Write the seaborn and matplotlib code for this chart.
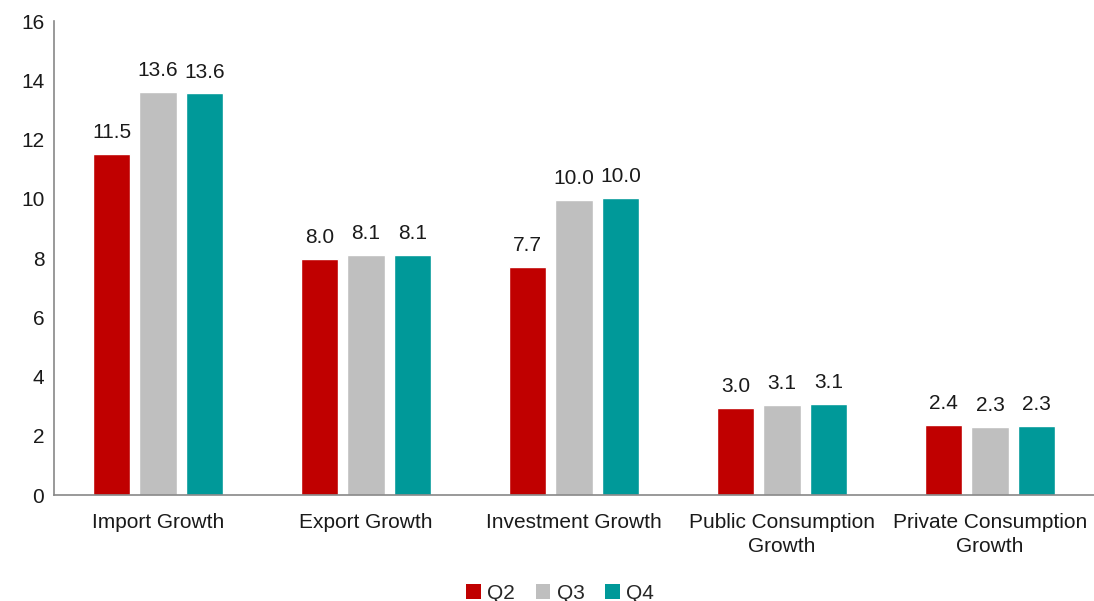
import matplotlib
matplotlib.use("Agg")
import matplotlib.pyplot as plt
import seaborn as sns
import pandas as pd
from matplotlib.patches import Patch

categories = ["Import Growth", "Export Growth", "Investment Growth",
              "Public Consumption\nGrowth", "Private Consumption\nGrowth"]
quarters = ["Q2", "Q3", "Q4"]
q2 = [11.52, 7.97, 7.71, 2.95, 2.37]
q3 = [13.60, 8.10, 9.96, 3.06, 2.31]
q4 = [13.56, 8.12, 10.04, 3.08, 2.33]
colors = ["#C00000", "#BFBFBF", "#009999"]

rows = []
for q, vals in zip(quarters, [q2, q3, q4]):
    for c, v in zip(categories, vals):
        rows.append({"Category": c, "Quarter": q, "Value": v})
df = pd.DataFrame(rows)

sns.set_theme(style="white")
plt.rcParams["font.family"] = ["Liberation Sans", "DejaVu Sans"]

FS = 15

fig = plt.figure(figsize=(10.94, 6.01), dpi=100)
ax = fig.add_axes([0.0494, 0.176, 0.9506, 0.789])

sns.barplot(data=df, x="Category", y="Value", hue="Quarter", order=categories,
            hue_order=quarters, palette=colors, width=0.67, gap=0.2,
            saturation=1, ax=ax, legend=False)

for container in ax.containers:
    ax.bar_label(container, fmt="%.1f", padding=8.5, fontsize=FS, color="#1a1a1a")

ax.set_ylim(0, 16)
ax.set_xlim(-0.5, 4.5)
ax.set_yticks(range(0, 17, 2))
ax.set_xlabel("")
ax.set_ylabel("")
ax.tick_params(axis="both", length=0, labelsize=FS, colors="#1a1a1a")
ax.tick_params(axis="y", pad=7)
ax.tick_params(axis="x", pad=13)
for lbl in ax.get_xticklabels():
    lbl.set_linespacing(1.3)
for s in ["top", "right"]:
    ax.spines[s].set_visible(False)
for s in ["left", "bottom"]:
    ax.spines[s].set_color("#888888")
    ax.spines[s].set_linewidth(1.2)

handles = [Patch(facecolor=c, edgecolor="none") for c in colors]
fig.legend(handles, quarters, loc="center", bbox_to_anchor=(0.512, 0.013),
           ncol=3, frameon=False, fontsize=FS, handlelength=0.7, handleheight=0.7,
           handletextpad=0.3, columnspacing=1.0)

fig.savefig("out.png", dpi=100)
